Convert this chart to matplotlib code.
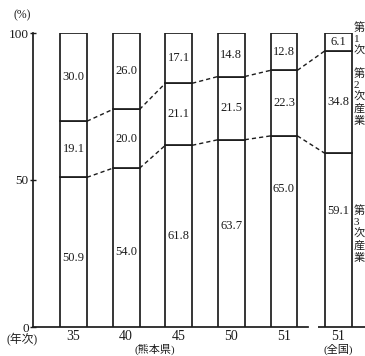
import numpy as np
import matplotlib
matplotlib.use('Agg')
import matplotlib.pyplot as plt

plt.rcParams['font.family'] = ['Liberation Serif', 'Noto Sans CJK JP']

# 熊本県 (年次 35..51) と 全国 (51) の産業別就業者構成比 (%)
years = ['35', '40', '45', '50', '51']
tertiary = [50.9, 54.0, 61.8, 63.7, 65.0]
secondary = [19.1, 20.0, 21.1, 21.5, 22.3]
primary = [30.0, 26.0, 17.1, 14.8, 12.8]

nat_year = '51'
nat_tertiary = 59.1
nat_secondary = 34.8
nat_primary = 6.1

ink = '#1c1c1c'
lw = 1.25
w = 0.51
# where the label of the lowest segment sits (fraction of its height)
low_frac = [0.46, 0.47, 0.5, 0.54, 0.72, 0.67]

t = np.array(tertiary + [nat_tertiary])
s = np.array(secondary + [nat_secondary])
p = np.array(primary + [nat_primary])
x = np.append(np.arange(len(years)), 5.03)

fig = plt.figure(figsize=(3.65, 3.56), dpi=100)
ax = fig.add_axes([33 / 365, 29 / 356, 332 / 365, 294 / 356])
ax.set_xlim(-0.77, 5.54)
ax.set_ylim(0, 100)

ax.bar(x, t, width=w, color='white', edgecolor=ink, lw=lw, zorder=3)
ax.bar(x, s, bottom=t, width=w, color='white', edgecolor=ink, lw=lw, zorder=3)
ax.bar(x, p, bottom=t + s, width=w, color='white', edgecolor=ink, lw=lw, zorder=3)

# dashed lines joining the boundaries
for lev in (t, t + s):
    for i in range(len(x) - 1):
        ax.plot([x[i] + w / 2, x[i + 1] - w / 2], [lev[i], lev[i + 1]],
                ls=(0, (3, 2.2)), color=ink, lw=1.0, zorder=2)

for i in range(len(x)):
    ax.text(x[i], t[i] * low_frac[i], f'{t[i]:.1f}', ha='center', va='center',
            fontsize=9, color=ink, zorder=4)
    for bot, val in ((t[i], s[i]), (t[i] + s[i], p[i])):
        ax.text(x[i], bot + val / 2, f'{val:.1f}', ha='center', va='center',
                fontsize=9, color=ink, zorder=4)

for side in ('top', 'right'):
    ax.spines[side].set_visible(False)
ax.spines['left'].set_bounds(0, 100)
ax.spines['left'].set_linewidth(lw)
ax.spines['left'].set_color(ink)
ax.spines['bottom'].set_bounds(-0.77, 4.46)
ax.spines['bottom'].set_linewidth(lw)
ax.spines['bottom'].set_color(ink)
ax.hlines(0, 4.65, 5.54, color=ink, lw=lw, clip_on=False)

ax.set_yticks([0, 50, 100], ['0', '50', '100'])
ax.tick_params(axis='y', direction='inout', length=4, width=1, colors=ink,
               labelsize=9.5, pad=1)
ax.set_xticks(x, years + [nat_year])
ax.tick_params(axis='x', length=0, labelsize=10, pad=2, colors=ink)

ax.text(-0.98, 106, '(%)', ha='center', va='center', fontsize=8.5, color=ink,
        clip_on=False)
ax.text(-0.98, -2.2, '(年次)', ha='center', va='top', fontsize=8.5, color=ink,
        clip_on=False)
ax.text(1.55, -5.6, '(熊本県)', ha='center', va='top', fontsize=8, color=ink,
        clip_on=False)
ax.text(5.03, -5.6, '(全国)', ha='center', va='top', fontsize=8, color=ink,
        clip_on=False)

for label, ytop in (('第1次', 22), ('第2次産業', 68), ('第3次産業', 205)):
    fig.text(354 / 365, 1 - ytop / 356, '\n'.join(label), ha='left', va='top',
             fontsize=8, color=ink, linespacing=1.25)

fig.savefig('out.png', dpi=100)
